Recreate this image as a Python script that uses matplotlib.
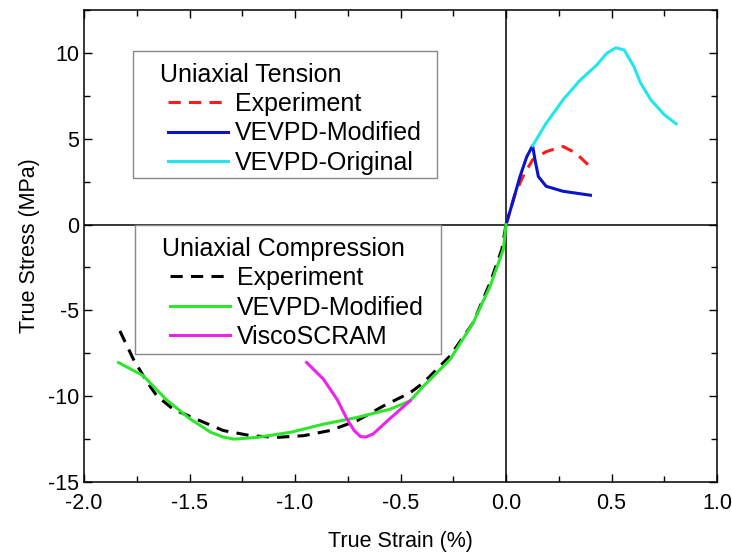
import numpy as np
import matplotlib
matplotlib.use("Agg")
import matplotlib.pyplot as plt
from matplotlib.legend_handler import HandlerLine2D
from matplotlib.patches import Rectangle
from matplotlib.ticker import MultipleLocator, FormatStrFormatter

plt.rcParams['font.family'] = ['Liberation Sans', 'DejaVu Sans']
plt.rcParams['axes.unicode_minus'] = False

# tension data (strain %, stress MPa)
ten_exp_x = [0.0, 0.04, 0.08, 0.126, 0.19, 0.27, 0.33, 0.396]
ten_exp_y = [0.0, 1.7, 2.8, 3.78, 4.25, 4.55, 4.17, 3.4]

ten_mod_x = [0.0, 0.035, 0.066, 0.098, 0.126, 0.137, 0.153, 0.19, 0.27, 0.40]
ten_mod_y = [0.0, 1.45, 2.8, 3.95, 4.6, 3.78, 2.8, 2.23, 1.94, 1.71]

ten_org_x = [0.126, 0.19, 0.27, 0.35, 0.43, 0.477, 0.52, 0.56, 0.606, 0.638, 0.686, 0.75, 0.806]
ten_org_y = [4.6, 5.9, 7.27, 8.4, 9.3, 9.98, 10.3, 10.17, 9.2, 8.24, 7.27, 6.4, 5.87]

# compression data
cmp_exp_x = [-1.83, -1.766, -1.70, -1.655, -1.577, -1.45, -1.34, -1.21, -1.087, -0.96,
             -0.834, -0.707, -0.58, -0.455, -0.39, -0.265, -0.155, -0.076, -0.02, 0.0]
cmp_exp_y = [-6.2, -7.85, -9.2, -9.98, -10.76, -11.43, -12.0, -12.3, -12.4, -12.3,
             -12.0, -11.43, -10.56, -9.8, -9.2, -7.65, -5.7, -3.4, -1.45, 0.0]

cmp_mod_x = [-1.837, -1.72, -1.61, -1.50, -1.40, -1.34, -1.29, -1.18, -1.02, -0.866, -0.707,
             -0.55, -0.455, -0.39, -0.265, -0.155, -0.076, -0.013, 0.0]
cmp_mod_y = [-8.04, -8.8, -10.2, -11.3, -12.1, -12.38, -12.5, -12.4, -12.1, -11.63, -11.24,
             -10.76, -10.27, -9.4, -7.85, -5.7, -3.6, -1.45, 0.0]

cmp_vs_x = [-0.945, -0.866, -0.80, -0.755, -0.72, -0.69, -0.665, -0.63, -0.55, -0.455]
cmp_vs_y = [-8.04, -9.0, -10.2, -11.3, -12.0, -12.35, -12.38, -12.2, -11.3, -10.27]

W, H = 732, 557
fig = plt.figure(figsize=(W / 100, H / 100), dpi=100)
ax = fig.add_axes([0.1148, 0.1346, 0.8648, 0.8474])

ax.axhline(0, color='black', lw=1.1, zorder=1)
ax.axvline(0, color='black', lw=1.1, zorder=1)

lw = 2.2
l1, = ax.plot(ten_exp_x, ten_exp_y, color='#ff1a1a', lw=lw, dashes=(4, 2.7))
l2, = ax.plot(ten_mod_x, ten_mod_y, color='#0a14c8', lw=lw)
l3, = ax.plot(ten_org_x, ten_org_y, color='#22e6ee', lw=lw)
c1, = ax.plot(cmp_exp_x, cmp_exp_y, color='black', lw=lw, dashes=(4, 2.7))
c2, = ax.plot(cmp_mod_x, cmp_mod_y, color='#2ee62e', lw=lw)
c3, = ax.plot(cmp_vs_x, cmp_vs_y, color='#ee22ee', lw=lw)

ax.set_xlim(-2, 1)
ax.set_ylim(-15, 12.5)
ax.xaxis.set_major_locator(MultipleLocator(0.5))
ax.xaxis.set_minor_locator(MultipleLocator(0.25))
ax.yaxis.set_major_locator(MultipleLocator(5))
ax.yaxis.set_minor_locator(MultipleLocator(2.5))
ax.xaxis.set_major_formatter(FormatStrFormatter('%.1f'))
ax.tick_params(which='both', direction='in', top=True, right=True, labelsize=15.5, width=1)
ax.tick_params(which='major', length=6)
ax.tick_params(which='minor', length=4)
ax.tick_params(axis='x', pad=8)
for s in ax.spines.values():
    s.set_linewidth(1.1)

ax.set_xlabel('True Strain (%)', fontsize=15.5, labelpad=12)
ax.set_ylabel('True Stress (MPa)', fontsize=15.5, labelpad=6)

# legend frames drawn by hand (pixel boxes)
for x0, y0, x1, y1 in [(133, 51, 437, 178), (135, 225, 441, 354)]:
    ax.add_patch(Rectangle((x0 / W, 1 - y1 / H), (x1 - x0) / W, (y1 - y0) / H,
                           transform=fig.transFigure, facecolor='white',
                           edgecolor='#888888', lw=1.0, zorder=4, clip_on=False))

handler = HandlerLine2D(xpad=0.9)
leg_kw = dict(loc='upper left', bbox_transform=fig.transFigure, borderaxespad=0,
              frameon=False, fontsize=18, title_fontsize=18, handlelength=3.3,
              handletextpad=0.28, labelspacing=0.22, borderpad=0.5, alignment='left')

leg1 = ax.legend([l1, l2, l3], ['Experiment', 'VEVPD-Modified', 'VEVPD-Original'],
                 title='  Uniaxial Tension', bbox_to_anchor=(133 / W, 1 - 50 / H),
                 handler_map={l1: handler, l2: handler, l3: handler}, **leg_kw)
ax.add_artist(leg1)
leg2 = ax.legend([c1, c2, c3], ['Experiment', 'VEVPD-Modified', 'ViscoSCRAM'],
                 title='  Uniaxial Compression', bbox_to_anchor=(135 / W, 1 - 224 / H),
                 handler_map={c1: handler, c2: handler, c3: handler}, **leg_kw)

fig.savefig('out.png', dpi=100)
